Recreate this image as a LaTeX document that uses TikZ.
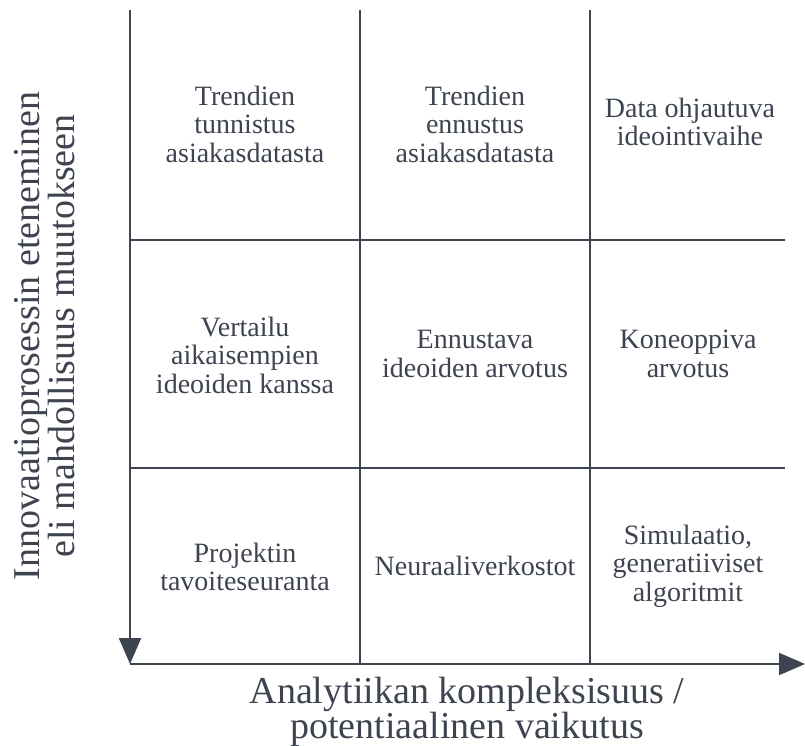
\documentclass[tikz,border=0pt]{standalone}
\usepackage{fontspec}
\setmainfont{Liberation Serif}
\usetikzlibrary{arrows.meta}
\definecolor{ink}{HTML}{3D4450}
\begin{document}
\begin{tikzpicture}[x=1pt,y=-1pt,
  grid/.style={draw=ink,line width=2pt},
  axis/.style={draw=ink,line width=2pt,-{Triangle[length=26pt,width=22pt]}},
  cell/.style={text=ink,align=center,font=\fontsize{28}{28.5}\selectfont,inner sep=0pt},
  axlabel/.style={text=ink,align=center,font=\fontsize{38}{35}\selectfont,inner sep=0pt}]
\useasboundingbox (0,0) rectangle (805,746);
% axes
\coordinate (o) at (130,664);
\coordinate (ytop) at (130,10);
\coordinate (xend) at (805,664);
\draw[axis] (ytop) -- (o);
\draw[grid] (o) -- (792,664);
\draw[axis] (780,664) -- (xend);
% grid lines
\draw[grid] (360,10) -- (360,664);
\draw[grid] (590,10) -- (590,664);
\draw[grid] (130,240) -- (785,240);
\draw[grid] (130,468) -- (785,468);
% cells
\node[cell] (c11) at (245,124) {Trendien\\tunnistus\\asiakasdatasta};
\node[cell] (c12) at (475,124) {Trendien\\ennustus\\asiakasdatasta};
\node[cell] (c13) at (690,122) {Data ohjautuva\\ideointivaihe};
\node[cell] (c21) at (245,355) {Vertailu\\aikaisempien\\ideoiden kanssa};
\node[cell] (c22) at (475,354) {Ennustava\\ideoiden arvotus};
\node[cell] (c23) at (688,354) {Koneoppiva\\arvotus};
\node[cell] (c31) at (245,567) {Projektin\\tavoiteseuranta};
\node[cell] (c32) at (475,566) {Neuraaliverkostot};
\node[cell] (c33) at (688,566) {Simulaatio,\\generatiiviset\\algoritmit};
% axis labels
\node[axlabel,rotate=90] (ylab) at (45,336) {Innovaatioprosessin eteneminen\\eli mahdollisuus muutokseen};
\node[axlabel] (xlab) at (467,712) {Analytiikan kompleksisuus /\\potentiaalinen vaikutus};
\end{tikzpicture}
\end{document}
